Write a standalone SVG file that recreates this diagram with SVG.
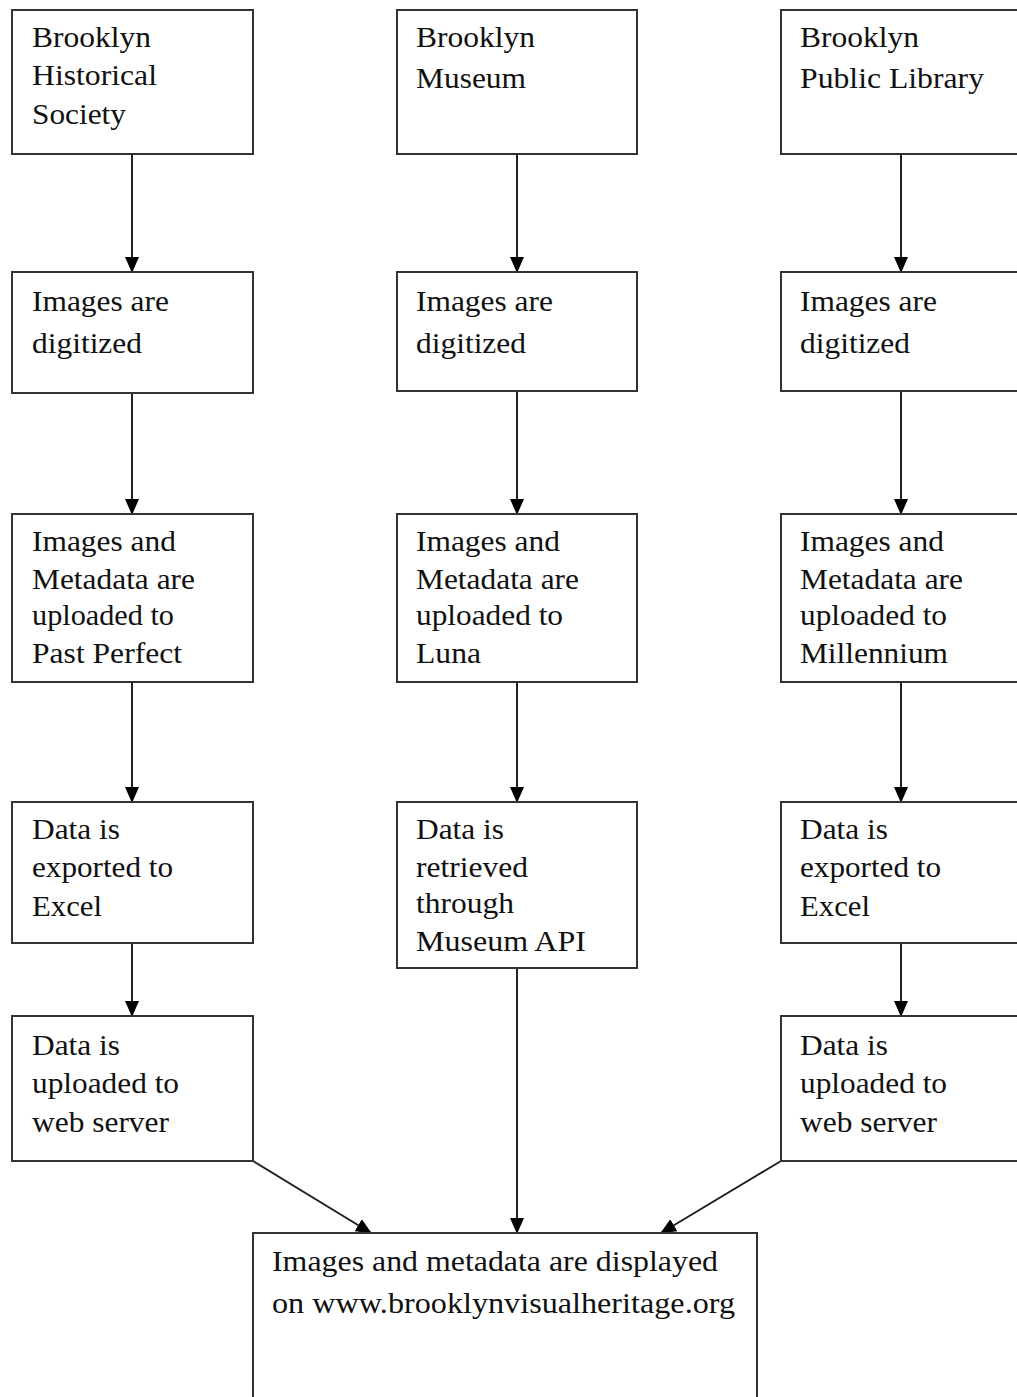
<svg xmlns="http://www.w3.org/2000/svg" width="1017" height="1397" viewBox="0 0 1017 1397">
<style>
.box{fill:#fff;stroke:#333;stroke-width:2}
.t{font-family:"Liberation Serif","Times New Roman",serif;font-size:29px;fill:#111}
.c{stroke:#222;stroke-width:2;fill:none}
</style>
<defs>
<marker id="ah" markerUnits="userSpaceOnUse" markerWidth="16" markerHeight="14" refX="15" refY="7" orient="auto" viewBox="0 0 16 14">
<path d="M0,0 L16,7 L0,14 z" fill="#000"/>
</marker>
</defs>
<rect width="1017" height="1397" fill="#fff"/>
<g id="connectors">
<line class="c" x1="132" y1="154" x2="132" y2="272" marker-end="url(#ah)"/>
<line class="c" x1="517" y1="154" x2="517" y2="272" marker-end="url(#ah)"/>
<line class="c" x1="901" y1="154" x2="901" y2="272" marker-end="url(#ah)"/>
<line class="c" x1="132" y1="393" x2="132" y2="514" marker-end="url(#ah)"/>
<line class="c" x1="517" y1="391" x2="517" y2="514" marker-end="url(#ah)"/>
<line class="c" x1="901" y1="391" x2="901" y2="514" marker-end="url(#ah)"/>
<line class="c" x1="132" y1="682" x2="132" y2="802" marker-end="url(#ah)"/>
<line class="c" x1="517" y1="682" x2="517" y2="802" marker-end="url(#ah)"/>
<line class="c" x1="901" y1="682" x2="901" y2="802" marker-end="url(#ah)"/>
<line class="c" x1="132" y1="943" x2="132" y2="1016" marker-end="url(#ah)"/>
<line class="c" x1="901" y1="943" x2="901" y2="1016" marker-end="url(#ah)"/>
<line class="c" x1="517" y1="968" x2="517" y2="1233" marker-end="url(#ah)"/>
<line class="c" x1="253" y1="1161" x2="371" y2="1233" marker-end="url(#ah)"/>
<line class="c" x1="781" y1="1161" x2="661" y2="1233" marker-end="url(#ah)"/>
</g>
<g id="bhs">
<rect class="box" x="12" y="10" width="241" height="144"/>
<text class="t"><tspan x="32" y="47" textLength="119" lengthAdjust="spacingAndGlyphs">Brooklyn</tspan><tspan x="32" y="85" textLength="125" lengthAdjust="spacingAndGlyphs">Historical</tspan><tspan x="32" y="124" textLength="94" lengthAdjust="spacingAndGlyphs">Society</tspan></text>
</g>
<g id="bm">
<rect class="box" x="397" y="10" width="240" height="144"/>
<text class="t"><tspan x="416" y="47" textLength="119" lengthAdjust="spacingAndGlyphs">Brooklyn</tspan><tspan x="416" y="88" textLength="110" lengthAdjust="spacingAndGlyphs">Museum</tspan></text>
</g>
<g id="bpl">
<rect class="box" x="781" y="10" width="250" height="144"/>
<text class="t"><tspan x="800" y="47" textLength="119" lengthAdjust="spacingAndGlyphs">Brooklyn</tspan><tspan x="800" y="88" textLength="184" lengthAdjust="spacingAndGlyphs">Public Library</tspan></text>
</g>
<g id="dig1">
<rect class="box" x="12" y="272" width="241" height="121"/>
<text class="t"><tspan x="32" y="311" textLength="137" lengthAdjust="spacingAndGlyphs">Images are</tspan><tspan x="32" y="353" textLength="110" lengthAdjust="spacingAndGlyphs">digitized</tspan></text>
</g>
<g id="dig2">
<rect class="box" x="397" y="272" width="240" height="119"/>
<text class="t"><tspan x="416" y="311" textLength="137" lengthAdjust="spacingAndGlyphs">Images are</tspan><tspan x="416" y="353" textLength="110" lengthAdjust="spacingAndGlyphs">digitized</tspan></text>
</g>
<g id="dig3">
<rect class="box" x="781" y="272" width="250" height="119"/>
<text class="t"><tspan x="800" y="311" textLength="137" lengthAdjust="spacingAndGlyphs">Images are</tspan><tspan x="800" y="353" textLength="110" lengthAdjust="spacingAndGlyphs">digitized</tspan></text>
</g>
<g id="up1">
<rect class="box" x="12" y="514" width="241" height="168"/>
<text class="t"><tspan x="32" y="551" textLength="144" lengthAdjust="spacingAndGlyphs">Images and</tspan><tspan x="32" y="589" textLength="163" lengthAdjust="spacingAndGlyphs">Metadata are</tspan><tspan x="32" y="625" textLength="142" lengthAdjust="spacingAndGlyphs">uploaded to</tspan><tspan x="32" y="663" textLength="150" lengthAdjust="spacingAndGlyphs">Past Perfect</tspan></text>
</g>
<g id="up2">
<rect class="box" x="397" y="514" width="240" height="168"/>
<text class="t"><tspan x="416" y="551" textLength="144" lengthAdjust="spacingAndGlyphs">Images and</tspan><tspan x="416" y="589" textLength="163" lengthAdjust="spacingAndGlyphs">Metadata are</tspan><tspan x="416" y="625" textLength="147" lengthAdjust="spacingAndGlyphs">uploaded to</tspan><tspan x="416" y="663" textLength="65" lengthAdjust="spacingAndGlyphs">Luna</tspan></text>
</g>
<g id="up3">
<rect class="box" x="781" y="514" width="250" height="168"/>
<text class="t"><tspan x="800" y="551" textLength="144" lengthAdjust="spacingAndGlyphs">Images and</tspan><tspan x="800" y="589" textLength="163" lengthAdjust="spacingAndGlyphs">Metadata are</tspan><tspan x="800" y="625" textLength="147" lengthAdjust="spacingAndGlyphs">uploaded to</tspan><tspan x="800" y="663" textLength="148" lengthAdjust="spacingAndGlyphs">Millennium</tspan></text>
</g>
<g id="ex1">
<rect class="box" x="12" y="802" width="241" height="141"/>
<text class="t"><tspan x="32" y="839" textLength="88" lengthAdjust="spacingAndGlyphs">Data is</tspan><tspan x="32" y="877" textLength="141" lengthAdjust="spacingAndGlyphs">exported to</tspan><tspan x="32" y="916" textLength="70" lengthAdjust="spacingAndGlyphs">Excel</tspan></text>
</g>
<g id="api">
<rect class="box" x="397" y="802" width="240" height="166"/>
<text class="t"><tspan x="416" y="839" textLength="88" lengthAdjust="spacingAndGlyphs">Data is</tspan><tspan x="416" y="877" textLength="112" lengthAdjust="spacingAndGlyphs">retrieved</tspan><tspan x="416" y="913" textLength="98" lengthAdjust="spacingAndGlyphs">through</tspan><tspan x="416" y="951" textLength="170" lengthAdjust="spacingAndGlyphs">Museum API</tspan></text>
</g>
<g id="ex3">
<rect class="box" x="781" y="802" width="250" height="141"/>
<text class="t"><tspan x="800" y="839" textLength="88" lengthAdjust="spacingAndGlyphs">Data is</tspan><tspan x="800" y="877" textLength="141" lengthAdjust="spacingAndGlyphs">exported to</tspan><tspan x="800" y="916" textLength="70" lengthAdjust="spacingAndGlyphs">Excel</tspan></text>
</g>
<g id="web1">
<rect class="box" x="12" y="1016" width="241" height="145"/>
<text class="t"><tspan x="32" y="1055" textLength="88" lengthAdjust="spacingAndGlyphs">Data is</tspan><tspan x="32" y="1093" textLength="147" lengthAdjust="spacingAndGlyphs">uploaded to</tspan><tspan x="32" y="1132" textLength="137" lengthAdjust="spacingAndGlyphs">web server</tspan></text>
</g>
<g id="web3">
<rect class="box" x="781" y="1016" width="250" height="145"/>
<text class="t"><tspan x="800" y="1055" textLength="88" lengthAdjust="spacingAndGlyphs">Data is</tspan><tspan x="800" y="1093" textLength="147" lengthAdjust="spacingAndGlyphs">uploaded to</tspan><tspan x="800" y="1132" textLength="137" lengthAdjust="spacingAndGlyphs">web server</tspan></text>
</g>
<g id="display">
<rect class="box" x="253" y="1233" width="504" height="200"/>
<text class="t"><tspan x="272" y="1271" textLength="446" lengthAdjust="spacingAndGlyphs">Images and metadata are displayed</tspan><tspan x="272" y="1313" textLength="463" lengthAdjust="spacingAndGlyphs">on www.brooklynvisualheritage.org</tspan></text>
</g>
</svg>
